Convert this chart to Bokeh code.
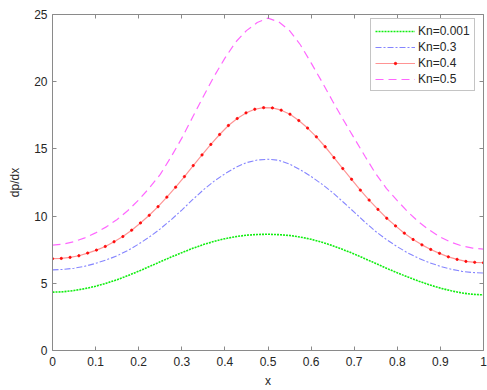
import numpy as np
from bokeh.plotting import figure
from bokeh.models import LinearAxis, FixedTicker, Range1d, Legend, LegendItem
from bokeh.embed import file_html
from bokeh.resources import INLINE

# ---- data ----
x_41 = np.linspace(0, 1, 41)   # x = 0, 0.025, ..., 1

kn_0001 = [4.34, 4.37, 4.46, 4.60, 4.78, 5.01, 5.27, 5.57, 5.90, 6.25, 6.60,
           6.95, 7.28, 7.60, 7.88, 8.12, 8.32, 8.47, 8.58, 8.63, 8.65,
           8.62, 8.56, 8.44, 8.28, 8.06, 7.80, 7.50, 7.18, 6.83, 6.48,
           6.12, 5.78, 5.46, 5.16, 4.88, 4.64, 4.44, 4.28, 4.18, 4.14]

kn_03 = [6.00, 6.03, 6.12, 6.27, 6.48, 6.74, 7.05, 7.45, 7.92, 8.45, 9.05,
         9.72, 10.45, 11.22, 11.95, 12.60, 13.15, 13.62, 13.98, 14.17, 14.23,
         14.15, 13.87, 13.45, 12.95, 12.38, 11.75, 11.03, 10.30, 9.55, 8.85,
         8.25, 7.72, 7.25, 6.86, 6.53, 6.26, 6.05, 5.89, 5.80, 5.77]

kn_05 = [7.84, 7.92, 8.10, 8.38, 8.75, 9.20, 9.75, 10.42, 11.20, 12.10, 13.10,
         14.40, 15.80, 17.35, 18.90, 20.40, 21.75, 22.95, 23.80, 24.40, 24.73,
         24.45, 23.80, 22.75, 21.40, 20.00, 18.55, 17.15, 15.80, 14.45, 13.15,
         12.05, 11.15, 10.30, 9.55, 8.95, 8.43, 8.05, 7.78, 7.62, 7.54]

x_50 = np.linspace(0, 1, 50)   # marker positions of the Kn=0.4 curve
kn_04 = [6.83, 6.85, 6.93, 7.05, 7.25, 7.47, 7.74, 8.09, 8.48, 8.95, 9.49, 10.06, 10.70,
         11.41, 12.15, 12.94, 13.76, 14.55, 15.33, 16.07, 16.74, 17.26, 17.68, 17.95, 18.07,
         18.05, 17.88, 17.58, 17.11, 16.55, 15.90, 15.16, 14.35, 13.54, 12.74, 11.93, 11.19,
         10.50, 9.84, 9.27, 8.73, 8.26, 7.86, 7.52, 7.23, 6.97, 6.78, 6.63, 6.56, 6.53]

labels = ["Kn=0.001", "Kn=0.3", "Kn=0.4", "Kn=0.5"]

x_ticks = [0, 0.1, 0.2, 0.3, 0.4, 0.5, 0.6, 0.7, 0.8, 0.9, 1]
x_tick_labels = ["0", "0.1", "0.2", "0.3", "0.4", "0.5", "0.6", "0.7", "0.8", "0.9", "1"]
y_ticks = [0, 5, 10, 15, 20, 25]
y_tick_labels = ["0", "5", "10", "15", "20", "25"]

FONT = "Liberation Sans"
AXIS_COLOR = "#8a8a8a"
TEXT_COLOR = "#262626"

p = figure(width=487, height=390, output_backend="svg", toolbar_location=None,
           x_range=Range1d(0, 1), y_range=Range1d(0, 25),
           min_border_left=52, min_border_right=4, min_border_top=14, min_border_bottom=38,
           x_axis_label="x", y_axis_label="dp/dx")
p.xgrid.visible = False
p.ygrid.visible = False
p.outline_line_color = None
p.background_fill_color = "white"
p.border_fill_color = "white"

def style_axis(ax, ticks, tick_labels, show_labels):
    ax.ticker = FixedTicker(ticks=ticks)
    ax.major_tick_in = 4
    ax.major_tick_out = 0
    ax.minor_tick_line_color = None
    ax.axis_line_color = AXIS_COLOR
    ax.major_tick_line_color = AXIS_COLOR
    ax.axis_line_width = 1
    if show_labels:
        ax.major_label_overrides = {t: l for t, l in zip(ticks, tick_labels)}
        ax.major_label_text_font = FONT
        ax.major_label_text_font_size = "12px"
        ax.major_label_text_color = TEXT_COLOR
        ax.axis_label_text_font = FONT
        ax.axis_label_text_font_size = "12px"
        ax.axis_label_text_font_style = "normal"
        ax.axis_label_text_color = TEXT_COLOR
    else:
        ax.major_label_text_color = None
        ax.major_label_text_font_size = "1px"
        ax.major_label_standoff = 0
        ax.axis_label = None

style_axis(p.xaxis[0], x_ticks, x_tick_labels, True)
style_axis(p.yaxis[0], y_ticks, y_tick_labels, True)
p.xaxis[0].major_label_standoff = 6
p.xaxis[0].axis_label_standoff = 5
p.yaxis[0].major_label_standoff = 5
p.yaxis[0].axis_label_standoff = 9

top_ax = LinearAxis()
right_ax = LinearAxis()
style_axis(top_ax, x_ticks, x_tick_labels, False)
style_axis(right_ax, y_ticks, y_tick_labels, False)
p.add_layout(top_ax, "above")
p.add_layout(right_ax, "right")

r_g = p.line(x_41, kn_0001, line_color="#11ee11", line_width=1.6, line_dash="2 1")
r_b = p.line(x_41, kn_03, line_color="#3333ff", line_alpha=0.6, line_width=1.1,
             line_dash="6 2 2 2")
r_r = p.line(x_50, kn_04, line_color="#ff0000", line_alpha=0.42, line_width=1.2)
r_rm = p.scatter(x_50, kn_04, size=2.3, fill_color="#ff0000", line_color="#ff0000",
                 line_alpha=0.8, fill_alpha=0.9)
r_m = p.line(x_41, kn_05, line_color="#ff00ff", line_alpha=0.6, line_width=1.2,
             line_dash="8 5")

legend = Legend(items=[
    LegendItem(label=labels[0], renderers=[r_g]),
    LegendItem(label=labels[1], renderers=[r_b]),
    LegendItem(label=labels[2], renderers=[r_r, r_rm]),
    LegendItem(label=labels[3], renderers=[r_m]),
], location=(318, 259))
legend.label_text_font = FONT
legend.label_text_font_size = "12px"
legend.label_text_color = TEXT_COLOR
legend.glyph_width = 40
legend.glyph_height = 6
legend.label_height = 15
legend.spacing = 1
legend.padding = 4
legend.margin = 0
legend.label_standoff = 3
legend.border_line_color = "#8a8a8a"
legend.border_line_width = 1
legend.background_fill_color = "white"
legend.background_fill_alpha = 1
p.add_layout(legend, "center")

open("out.html", "w").write(file_html(p, INLINE))
